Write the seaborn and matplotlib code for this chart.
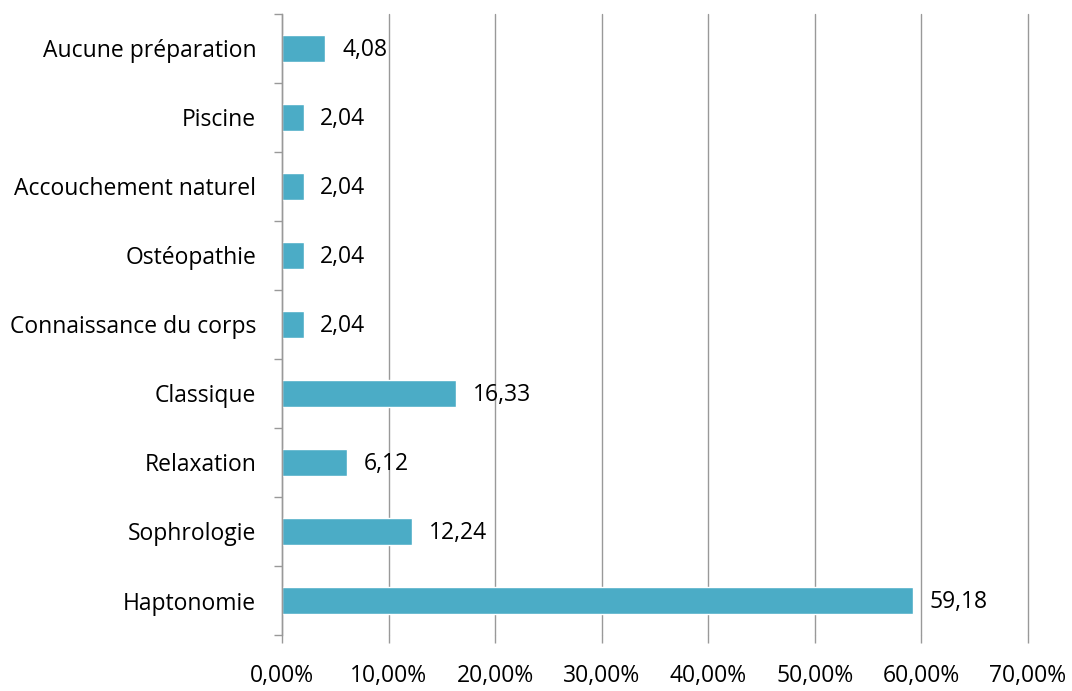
import matplotlib
matplotlib.use("Agg")
import matplotlib.pyplot as plt
import seaborn as sns
import pandas as pd
import numpy as np
from matplotlib.ticker import FixedLocator

categories = ["Aucune préparation", "Piscine", "Accouchement naturel", "Ostéopathie",
              "Connaissance du corps", "Classique", "Relaxation", "Sophrologie", "Haptonomie"]
values = [4.08, 2.04, 2.04, 2.04, 2.04, 16.33, 6.12, 12.24, 59.18]
xticks = [0, 10, 20, 30, 40, 50, 60, 70]

sns.set_theme(style="white")
plt.rcParams['font.family'] = ['Open Sans', 'DejaVu Sans']
FS = 16.5

df = pd.DataFrame({"cat": categories, "val": values})

fig = plt.figure(figsize=(10.72, 6.91), dpi=100)
ax = fig.add_axes([0.263, 0.081, 0.696, 0.899])
sns.barplot(data=df, x="val", y="cat", orient="h", color="#4BACC6", saturation=1,
            width=0.4, ax=ax, zorder=3)

ax.set_xlim(0, 70)
ax.set_ylim(len(categories) - 0.5, -0.5)
ax.set_xticks(xticks)
ax.set_xticklabels([f"{t:.2f}".replace(".", ",") + "%" for t in xticks], fontsize=FS, color="black")
ax.set_yticks(range(len(categories)))
ax.set_yticklabels(categories, fontsize=FS, color="black")
ax.yaxis.set_minor_locator(FixedLocator(np.arange(-0.5, len(categories), 1.0)))
ax.tick_params(axis="y", which="major", length=0, pad=18.5)
ax.tick_params(axis="y", which="minor", length=6, width=1, color="#999999", direction="out", left=True)
ax.tick_params(axis="x", which="major", length=6, width=1, color="#999999", direction="out", pad=15, bottom=True)
ax.set_xlabel("")
ax.set_ylabel("")

ax.grid(axis="x", color="#999999", linewidth=1, zorder=0)
for gl in ax.xaxis.get_gridlines():
    gl.set_clip_on(False)
ax.set_axisbelow(True)
for s in ["top", "right", "bottom"]:
    ax.spines[s].set_visible(False)
ax.spines["left"].set_color("#999999")
ax.spines["left"].set_linewidth(1)
ax.spines["left"].set_zorder(4)

for i, v in enumerate(values):
    ax.annotate(f"{v:.2f}".replace(".", ","), xy=(v, i), xytext=(12, -1),
                textcoords="offset points", va="center", ha="left", fontsize=FS, color="black")

fig.savefig("out.png", dpi=100)
